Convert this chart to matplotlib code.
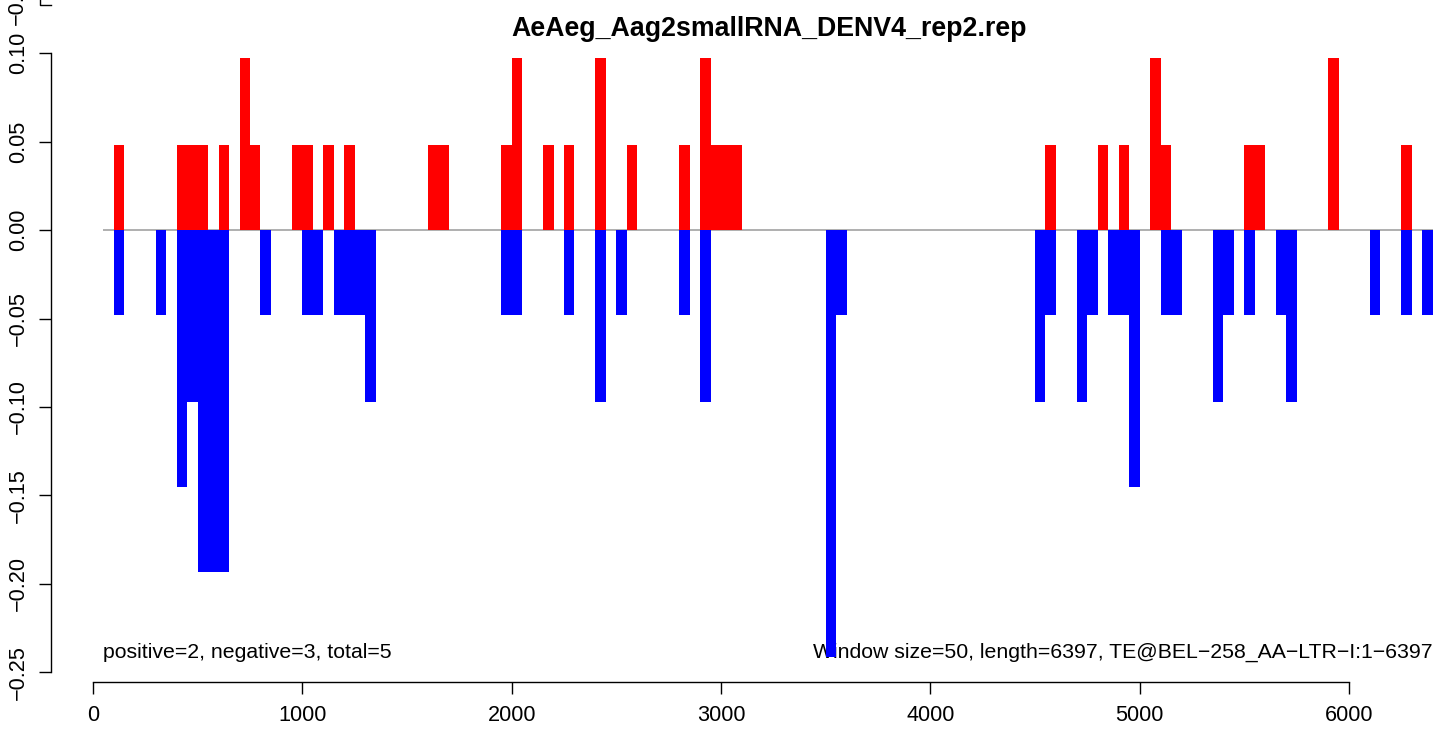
import matplotlib
matplotlib.use("Agg")
import matplotlib.pyplot as plt
from matplotlib.lines import Line2D

plt.rcParams['font.family'] = ['Liberation Sans', 'DejaVu Sans']

title = "AeAeg_Aag2smallRNA_DENV4_rep2.rep"
window = 50
seq_len = 6397
te_name = "TE@BEL\u2212258_AA\u2212LTR\u2212I:1\u22126397"

# window start positions and normalised counts (sense strand)
pos_start = [100, 400, 450, 500, 600, 700, 750, 950, 1000, 1100, 1200,
             1600, 1650, 1950, 2000, 2150, 2250, 2400, 2550, 2800, 2900,
             2950, 3000, 3050, 4550, 4800, 4900, 5050, 5100, 5500, 5550,
             5900, 6250]
pos_vals = [0.048, 0.048, 0.048, 0.048, 0.048, 0.097, 0.048, 0.048, 0.048,
            0.048, 0.048, 0.048, 0.048, 0.048, 0.097, 0.048, 0.048, 0.097,
            0.048, 0.048, 0.097, 0.048, 0.048, 0.048, 0.048, 0.048, 0.048,
            0.097, 0.048, 0.048, 0.048, 0.097, 0.048]

# antisense strand
neg_start = [100, 300, 400, 450, 500, 550, 600, 800, 1000, 1050, 1150, 1200,
             1250, 1300, 1950, 2000, 2250, 2400, 2500, 2800, 2900, 3500, 3550,
             4500, 4550, 4700, 4750, 4850, 4900, 4950, 5100, 5150, 5350, 5400,
             5500, 5650, 5700, 6100, 6250, 6350]
neg_vals = [-0.048, -0.048, -0.145, -0.097, -0.193, -0.193, -0.193, -0.048,
            -0.048, -0.048, -0.048, -0.048, -0.048, -0.097, -0.048, -0.048,
            -0.048, -0.097, -0.048, -0.048, -0.097, -0.241, -0.048, -0.097,
            -0.048, -0.097, -0.048, -0.048, -0.048, -0.145, -0.048, -0.048,
            -0.097, -0.048, -0.048, -0.048, -0.097, -0.048, -0.048, -0.048]

n_pos, n_neg = 2, 3

W, H = 1441, 729
fig = plt.figure(figsize=(W / 100, H / 100), dpi=100)
ax = fig.add_axes([51 / W, 47 / H, 1396 / W, 647 / H])

ax.hlines(0, 50, 6400, color='#A9A9A9', lw=1.3, zorder=1)
ax.bar(pos_start, pos_vals, width=window, align='edge', color='#FF0000', lw=0, zorder=3)
ax.bar(neg_start, neg_vals, width=window, align='edge', color='#0000FF', lw=0, zorder=3)

ax.set_xlim(-200.6, 6468)
ax.set_ylim(-0.2554, 0.1102)

for s in ['top', 'right']:
    ax.spines[s].set_visible(False)
ax.spines['left'].set_bounds(-0.25, 0.10)
ax.spines['bottom'].set_bounds(0, 6000)
ax.spines['left'].set_linewidth(1.0)
ax.spines['bottom'].set_linewidth(1.0)

ax.set_xticks(range(0, 6001, 1000))
ax.set_yticks([-0.25, -0.20, -0.15, -0.10, -0.05, 0.00, 0.05, 0.10])
ax.set_yticklabels([("%.2f" % v).replace('-', '\u2212') for v in ax.get_yticks()])
ax.tick_params(axis='both', labelsize=15.6, length=8.3, width=1.0, color='black')
ax.tick_params(axis='x', pad=8.6)
ax.tick_params(axis='y', pad=7.5)
plt.setp(ax.get_yticklabels(), rotation=90, va='center')

# annotations at the bottom of the plot
txt_y = -0.2418
ax.text(50, txt_y, "positive=%d, negative=%d, total=%d" % (n_pos, n_neg, n_pos + n_neg),
        ha='left', va='baseline', fontsize=15.3, zorder=2)
ax.text(seq_len, txt_y, "Window size=%d, length=%d, %s" % (window, seq_len, te_name),
        ha='right', va='baseline', fontsize=15.3, zorder=2)

fig.text(769 / W, 1 - 36 / H, title, ha='center', va='baseline',
         fontsize=19.3, fontweight='bold')

# leftover axis of the panel above (cut by the page edge)
fig.text(27.6 / W, 1 + 2 / H, "\u22120.25", rotation=90, ha='right', va='center', fontsize=15.6)
fig.add_artist(Line2D([40 / W, 40 / W, 51 / W], [1, 1 - 5 / H, 1 - 5 / H],
                      transform=fig.transFigure, color='black', lw=1.0))

fig.savefig('out.png', dpi=100)
